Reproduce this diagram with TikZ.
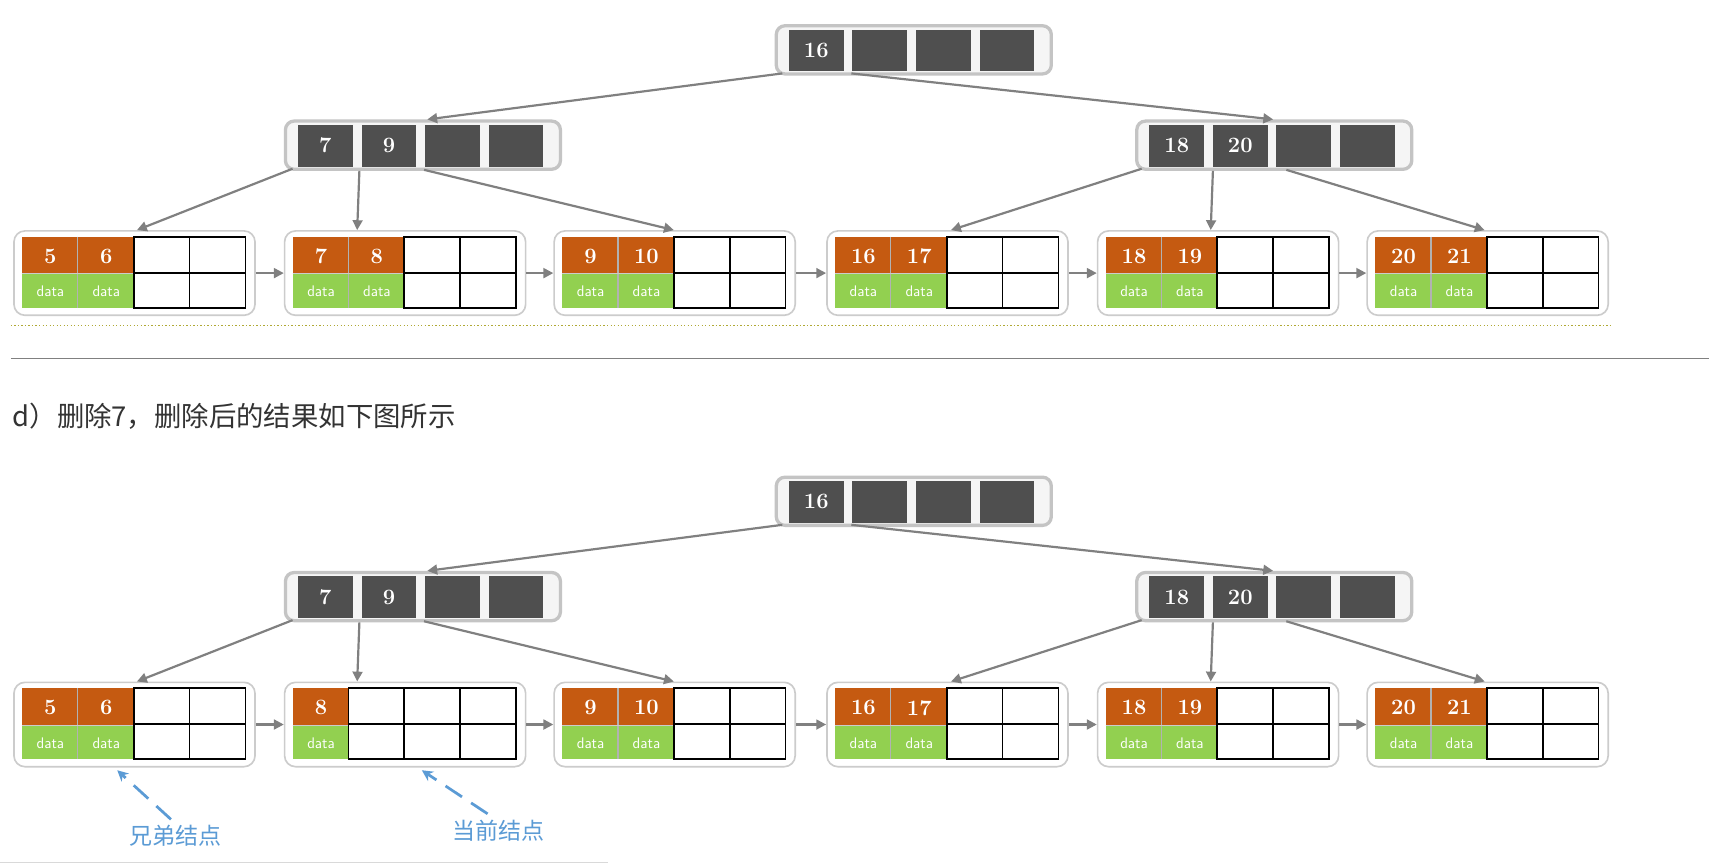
\documentclass[tikz,border=0pt]{standalone}
\usepackage{fontspec}
\newfontfamily\cjk{Noto Sans CJK SC}
\usetikzlibrary{arrows.meta}
\definecolor{okey}{HTML}{C55A11}
\definecolor{gdat}{HTML}{92D050}
\definecolor{dcell}{HTML}{4F4F4F}
\definecolor{obox}{HTML}{C4C4C4}
\definecolor{lbl}{HTML}{5B9BD5}
\tikzset{
 ibox/.style={draw=obox,fill=gray!8,line width=3pt,rounded corners=8pt,minimum width=251pt,minimum height=44pt,inner sep=0pt},
 leafbox/.style={draw=gray!40,line width=1.5pt,rounded corners=10pt,minimum width=220pt,minimum height=77pt,inner sep=0pt},
 keyt/.style={text=white,font=\bfseries\fontsize{20}{22}\selectfont},
 datat/.style={text=white,font=\sffamily\fontsize{14}{16}\selectfont},
 edge/.style={draw=gray,line width=2pt,-{Triangle[length=9pt,width=9pt]}},
 grid/.style={draw=black,line width=1.6pt},
}
\newcommand\inode[5]{%
 \node[ibox,anchor=north west] (#1) at (#2,#3) {};
 \foreach \i in {0,1,2,3}{\fill[dcell] (#2+13+58*\i,#3+5) rectangle ++(50,38);}
 \node[keyt] at (#2+38,#3+24) {#4};
 \node[keyt] at (#2+96,#3+24) {#5};
}
\newcommand\leafA[5]{%
 \node[leafbox,anchor=north west] (#1) at (#2,#3) {};
 \fill[okey] (#2+8,#3+6) rectangle (#2+110,#3+40);
 \fill[gdat] (#2+8,#3+40) rectangle (#2+110,#3+71);
 \draw[gray!60,line width=1pt] (#2+59,#3+6) -- (#2+59,#3+71);
 \draw[gray!40,line width=1pt] (#2+8,#3+40) -- (#2+110,#3+40);
 \draw[grid] (#2+110,#3+6) rectangle (#2+212,#3+71);
 \draw[grid] (#2+161,#3+6) -- (#2+161,#3+71) (#2+110,#3+39) -- (#2+212,#3+39);
 \node[keyt] at (#2+34,#3+24) {#4};
 \node[keyt] at (#2+85,#3+24) {#5};
 \node[datat] at (#2+34,#3+56) {data};
 \node[datat] at (#2+85,#3+56) {data};
}
\newcommand\leafB[4]{%
 \node[leafbox,anchor=north west] (#1) at (#2,#3) {};
 \fill[okey] (#2+8,#3+6) rectangle (#2+59,#3+40);
 \fill[gdat] (#2+8,#3+40) rectangle (#2+59,#3+71);
 \draw[gray!40,line width=1pt] (#2+8,#3+40) -- (#2+59,#3+40);
 \draw[grid] (#2+59,#3+6) rectangle (#2+212,#3+71);
 \draw[grid] (#2+110,#3+6) -- (#2+110,#3+71) (#2+161,#3+6) -- (#2+161,#3+71) (#2+59,#3+39) -- (#2+212,#3+39);
 \node[keyt] at (#2+34,#3+24) {#4};
 \node[datat] at (#2+34,#3+56) {data};
}
\newcommand\treeedges[1]{%
 \draw[edge] ([xshift=7pt,yshift=2pt]#1r.south west) -- ([xshift=131pt]#1i1.north west);
 \draw[edge] ([xshift=70pt,yshift=2pt]#1r.south west) -- ([xshift=126pt]#1i2.north west);
 \draw[edge] ([xshift=8pt,yshift=2pt]#1i1.south west) -- ([xshift=113pt]#1l1.north west);
 \draw[edge] ([xshift=69pt]#1i1.south west) -- ([xshift=67pt]#1l2.north west);
 \draw[edge] ([xshift=128pt,yshift=1pt]#1i1.south west) -- ([xshift=110pt]#1l3.north west);
 \draw[edge] ([xshift=6pt,yshift=2pt]#1i2.south west) -- ([xshift=114pt]#1l4.north west);
 \draw[edge] ([xshift=71pt]#1i2.south west) -- ([xshift=104pt]#1l5.north west);
 \draw[edge] ([xshift=138pt,yshift=1pt]#1i2.south west) -- ([xshift=108pt]#1l6.north west);
 \draw[edge] (#1l1.east) -- (#1l2.west);
 \draw[edge] (#1l2.east) -- (#1l3.west);
 \draw[edge] (#1l3.east) -- (#1l4.west);
 \draw[edge] (#1l4.east) -- (#1l5.west);
 \draw[edge] (#1l5.east) -- (#1l6.west);
}
\begin{document}
\begin{tikzpicture}[x=1pt,y=-1pt]
\useasboundingbox[fill=white] (0,0) rectangle (1568,789);
% top tree
\inode{ar}{707}{22}{16}{}
\inode{ai1}{259}{109}{7}{9}
\inode{ai2}{1036}{109}{18}{20}
\leafA{al1}{12}{210}{5}{6}
\leafA{al2}{259}{210}{7}{8}
\leafA{al3}{505}{210}{9}{10}
\leafA{al4}{754}{210}{16}{17}
\leafA{al5}{1001}{210}{18}{19}
\leafA{al6}{1247}{210}{20}{21}
\treeedges{a}
\draw[olive!70,line width=1.2pt,dotted] (10,297) -- (1470,297);
\draw[gray,line width=1pt] (10,327) -- (1560,327);
\node[anchor=west,text=black!80,font=\cjk\fontsize{25}{28}\selectfont] (title) at (8,380) {d）删除7，删除后的结果如下图所示};
% bottom tree
\inode{br}{707}{434}{16}{}
\inode{bi1}{259}{521}{7}{9}
\inode{bi2}{1036}{521}{18}{20}
\leafA{bl1}{12}{622}{5}{6}
\leafB{bl2}{259}{622}{8}
\leafA{bl3}{505}{622}{9}{10}
\leafA{bl4}{754}{622}{16}{17}
\leafA{bl5}{1001}{622}{18}{19}
\leafA{bl6}{1247}{622}{20}{21}
\treeedges{b}
\node[text=lbl,font=\cjk\fontsize{21}{24}\selectfont] (sib) at (160,763) {兄弟结点};
\node[text=lbl,font=\cjk\fontsize{21}{24}\selectfont] (cur) at (455,758) {当前结点};
\coordinate (sibtip) at (107,703);
\coordinate (curtip) at (385,703);
\draw[lbl,line width=2.5pt,dash pattern=on 18pt off 10pt,-{Stealth[length=10pt,width=10pt]}] (sib.north)++(-4,-2) -- (sibtip);
\draw[lbl,line width=2.5pt,dash pattern=on 18pt off 10pt,-{Stealth[length=10pt,width=10pt]}] (cur.north)++(-10,-2) -- (curtip);
\draw[gray!30,line width=1pt] (0,787) -- (555,787);
\end{tikzpicture}
\end{document}
